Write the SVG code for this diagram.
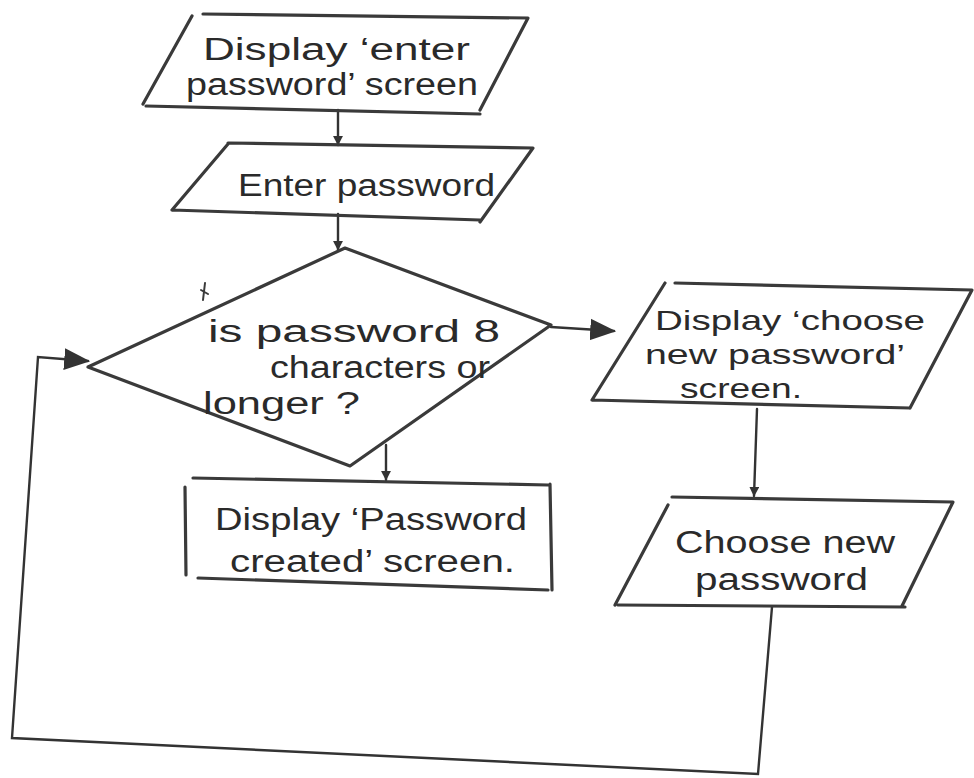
<svg xmlns="http://www.w3.org/2000/svg" width="974" height="778" viewBox="0 0 974 778">
<defs>
<style>
.sh{fill:none;stroke:#3a3a3a;stroke-width:3.2;stroke-linecap:round;stroke-linejoin:round}
.cn{fill:none;stroke:#333;stroke-width:2.4;stroke-linecap:round}
.t{font-family:"Liberation Sans","DejaVu Sans",sans-serif;font-size:31px;fill:#2a2a2a}
.s{font-size:28px}
</style>
<marker id="ah" viewBox="0 0 12 12" refX="11" refY="6" markerWidth="10" markerHeight="10" markerUnits="userSpaceOnUse" orient="auto">
<path d="M0,0 L12,6 L0,12 Z" fill="#333"/>
</marker>
<marker id="ahb" viewBox="0 0 12 12" refX="11" refY="6" markerWidth="26" markerHeight="26" markerUnits="userSpaceOnUse" orient="auto">
<path d="M0,1 L12,6 L0,11 Z" fill="#333"/>
</marker>
</defs>
<rect width="974" height="778" fill="#fff"/>
<g id="connectors">
<line class="cn" x1="338" y1="110" x2="338" y2="145" marker-end="url(#ah)"/>
<line class="cn" x1="338" y1="214" x2="338" y2="250" marker-end="url(#ah)"/>
<line class="cn" x1="551" y1="327" x2="614" y2="331" marker-end="url(#ahb)"/>
<line class="cn" x1="386" y1="445" x2="386" y2="480" marker-end="url(#ah)"/>
<line class="cn" x1="757" y1="409" x2="754" y2="496" marker-end="url(#ah)"/>
<polyline class="cn" points="772,607 758,774 12,738 38,357 88,361" marker-end="url(#ahb)"/>
</g>
<g id="n1">
<path class="sh" d="M203,14 L528,18 L480,110 M143,104 L192,16 M146,106 L480,114"/>
<text class="t" x="203" y="60" textLength="267" lengthAdjust="spacingAndGlyphs">Display ‘enter</text>
<text class="t" x="186" y="95" textLength="292" lengthAdjust="spacingAndGlyphs">password’ screen</text>
</g>
<g id="n2">
<path class="sh" d="M228,143 L533,148 L480,222 M172,210 L228,144 M172,210 L480,220"/>
<text class="t" x="238" y="196" textLength="257" lengthAdjust="spacingAndGlyphs">Enter password</text>
</g>
<g id="n3">
<path class="sh" d="M345,248 L551,325 L350,466 L88,367 Z"/>
<path class="sh" d="M205,283 L203,300 M201,290 L208,294" style="stroke-width:2"/>
<text class="t" x="208" y="342" textLength="292" lengthAdjust="spacingAndGlyphs">is password 8</text>
<text class="t" x="270" y="378" textLength="220" lengthAdjust="spacingAndGlyphs">characters or</text>
<text class="t" x="203" y="414" textLength="157" lengthAdjust="spacingAndGlyphs">longer ?</text>
</g>
<g id="n4">
<path class="sh" d="M193,478 L548,485 M185,487 L186,575 M198,578 L548,590 M550,484 L552,590"/>
<text class="t" x="215" y="530" textLength="312" lengthAdjust="spacingAndGlyphs">Display ‘Password</text>
<text class="t" x="230" y="572" textLength="285" lengthAdjust="spacingAndGlyphs">created’ screen.</text>
</g>
<g id="n5">
<path class="sh" d="M675,283 L972,290 L910,408 M665,283 L592,400 M592,400 L910,408"/>
<text class="t s" x="655" y="330" textLength="270" lengthAdjust="spacingAndGlyphs">Display ‘choose</text>
<text class="t s" x="645" y="364" textLength="260" lengthAdjust="spacingAndGlyphs">new password’</text>
<text class="t s" x="680" y="398" textLength="122" lengthAdjust="spacingAndGlyphs">screen.</text>
</g>
<g id="n6">
<path class="sh" d="M672,497 L953,502 L902,606 M668,505 L615,605 M618,605 L905,607"/>
<text class="t" x="675" y="553" textLength="220" lengthAdjust="spacingAndGlyphs">Choose new</text>
<text class="t" x="695" y="590" textLength="173" lengthAdjust="spacingAndGlyphs">password</text>
</g>
</svg>
